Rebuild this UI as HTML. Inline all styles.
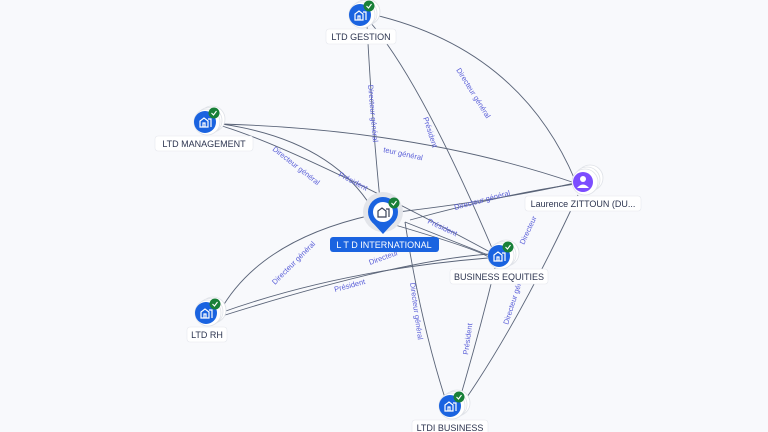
<!DOCTYPE html>
<html><head><meta charset="utf-8"><style>
html,body{margin:0;padding:0;background:#f8f9fc;width:768px;height:432px;overflow:hidden}
svg{display:block}
.e{fill:none;stroke:#5a6478;stroke-width:0.9}
.l{font-family:"Liberation Sans",sans-serif;font-size:7.5px;fill:#5a5fd8}
.n{font-family:"Liberation Sans",sans-serif;font-size:9px;fill:#2d3550}
.lb{fill:#fff;stroke:#e6e8ee;stroke-width:0.6}
.st{fill:#fff;stroke:#dfe2e8;stroke-width:0.8}
.ic{fill:none;stroke:#fff;stroke-width:1.2}
.ck{fill:none;stroke:#fff;stroke-width:1.1}
</style></head><body>
<svg width="768" height="432" viewBox="0 0 768 432">
<defs>
<g id="co">
<circle cx="7" cy="-3" r="13" class="st"/>
<circle cx="4" cy="-1.5" r="13" class="st"/>
<circle cx="2" cy="0" r="13" class="st"/>
<circle cx="0" cy="0" r="11" fill="#1a63e0"/>
<path class="ic" d="M-5,5 V-1 L-1,-4 L3,-1 V5 Z M3,-3 H6 V5 M-2,5 V1 H0 V5"/>
<circle cx="9" cy="-9" r="5.5" fill="#188038"/>
<path class="ck" d="M6.5,-9 L8.5,-7 L11.5,-11"/>
</g>
</defs>
<!-- edges -->
<path class="e" d="M367,25 Q372,120 380,200"/>
<path class="e" d="M370,22 Q420,80 492,248"/>
<path class="e" d="M375,15 Q520,50 575,180"/>
<path class="e" d="M222,124 Q420,130 575,183"/>
<path class="e" d="M222,124 Q330,140 372,208"/>
<path class="e" d="M222,126 Q300,150 490,252"/>
<path class="e" d="M398,212 Q500,200 575,183"/>
<path class="e" d="M405,222 Q450,240 488,255"/>
<path class="e" d="M395,225 Q480,250 490,258"/>
<path class="e" d="M220,311 Q260,240 372,215"/>
<path class="e" d="M220,313 Q340,270 488,258"/>
<path class="e" d="M222,316 Q400,260 490,254"/>
<path class="e" d="M405,222 Q420,320 445,398"/>
<path class="e" d="M495,268 Q480,330 460,398"/>
<path class="e" d="M465,400 Q520,320 578,195"/>
<path class="e" d="M410,220 Q500,195 575,184"/>
<!-- edge labels -->
<text class="l" transform="translate(368,85) rotate(85)">Directeur général</text>
<text class="l" transform="translate(423,118) rotate(72)">Président</text>
<text class="l" transform="translate(456,70) rotate(58)">Directeur général</text>
<text class="l" transform="translate(383,152) rotate(12)">teur général</text>
<text class="l" transform="translate(272,150) rotate(38)">Directeur général</text>
<text class="l" transform="translate(338,176) rotate(28)">Président</text>
<text class="l" transform="translate(455,210) rotate(-15)">Directeur général</text>
<text class="l" transform="translate(427,223) rotate(25)">Président</text>
<text class="l" transform="translate(275,285) rotate(-45)">Directeur général</text>
<text class="l" transform="translate(370,265) rotate(-20)">Directeur</text>
<text class="l" transform="translate(335,292) rotate(-15)">Président</text>
<text class="l" transform="translate(410,283) rotate(82)">Directeur général</text>
<text class="l" transform="translate(468,355) rotate(-82)">Président</text>
<text class="l" transform="translate(508,325) rotate(-72)">Directeur général</text>
<text class="l" transform="translate(524,245) rotate(-65)">Directeur</text>
<!-- nodes -->
<use href="#co" x="360" y="15"/>
<rect class="lb" x="326" y="29" width="70" height="15" rx="3"/>
<text class="n" x="361" y="40" text-anchor="middle">LTD GESTION</text>

<use href="#co" x="205" y="122"/>
<rect class="lb" x="155" y="136" width="98" height="15" rx="3"/>
<text class="n" x="204" y="147" text-anchor="middle">LTD MANAGEMENT</text>

<g>
<circle cx="590" cy="178" r="13" class="st"/>
<circle cx="587" cy="180" r="13" class="st"/>
<circle cx="585" cy="182" r="13" class="st"/>
<circle cx="583" cy="182" r="10" fill="#7c4dff"/>
<circle cx="583" cy="179" r="3" fill="#fff"/>
<path d="M577,188 Q583,181 589,188 Z" fill="#fff"/>
<rect class="lb" x="525" y="196" width="116" height="15" rx="3"/>
<text class="n" x="583" y="207" text-anchor="middle">Laurence ZITTOUN (DU...</text>
</g>
<g>
<circle cx="383" cy="212" r="20" fill="#e3e5ea"/>
<path d="M372,222 L383,234 L394,222 Z" fill="#1a63e0"/>
<circle cx="383" cy="212" r="15" fill="#1a63e0"/>
<circle cx="383" cy="212" r="10" fill="#fff"/>
<path d="M378,217 V211 L382,208 L386,211 V217 Z M386,209 H389 V217" fill="none" stroke="#3a4256" stroke-width="1.2"/>
<circle cx="394" cy="203" r="5.5" fill="#188038"/>
<path class="ck" d="M391.5,203 L393.5,205 L396.5,201"/>
<rect x="330" y="237" width="109" height="15" rx="3" fill="#1a63e0"/>
<text x="384" y="248" text-anchor="middle" font-family="Liberation Sans" font-size="9" fill="#fff">L T D INTERNATIONAL</text>
</g>
<use href="#co" x="499" y="256"/>
<rect class="lb" x="450" y="269" width="98" height="15" rx="3"/>
<text class="n" x="499" y="280" text-anchor="middle">BUSINESS EQUITIES</text>

<use href="#co" x="206" y="313"/>
<rect class="lb" x="187" y="327" width="40" height="15" rx="3"/>
<text class="n" x="207" y="338" text-anchor="middle">LTD RH</text>

<use href="#co" x="450" y="406"/>
<rect class="lb" x="412" y="420" width="76" height="15" rx="3"/>
<text class="n" x="450" y="431" text-anchor="middle">LTDI BUSINESS</text>
</svg>
</body></html>
